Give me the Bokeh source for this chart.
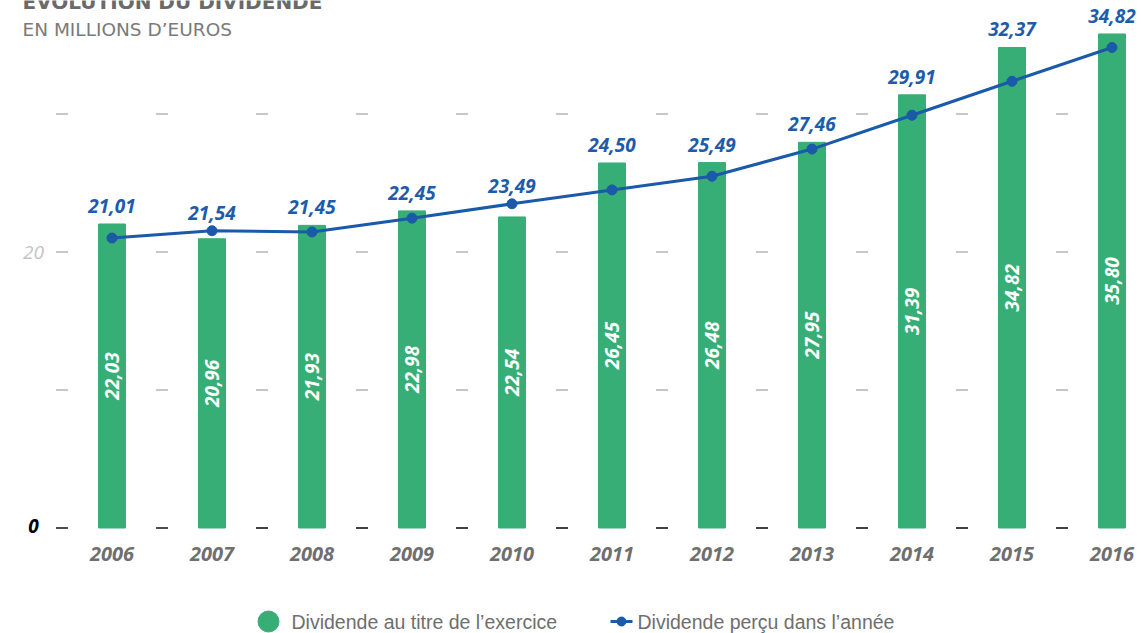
import math
from bokeh.plotting import figure
from bokeh.models import ColumnDataSource, Range1d
from bokeh.core.properties import value
from bokeh.embed import file_html
from bokeh.resources import INLINE

# ---------------- data ----------------
years = [2006, 2007, 2008, 2009, 2010, 2011, 2012, 2013, 2014, 2015, 2016]
year_labels = [str(y) for y in years]
dividende_exercice = [22.03, 20.96, 21.93, 22.98, 22.54, 26.45, 26.48, 27.95, 31.39, 34.82, 35.80]
dividende_percu = [21.01, 21.54, 21.45, 22.45, 23.49, 24.50, 25.49, 27.46, 29.91, 32.37, 34.82]
y_tick_values = [0, 20]
y_tick_labels = ["0", "20"]
grid_levels = [0, 10, 20, 30]

title_text = "ÉVOLUTION DU DIVIDENDE"
subtitle_text = "EN MILLIONS D\u2019EUROS"
legend_bars = "Dividende au titre de l\u2019exercice"
legend_line = "Dividende perçu dans l\u2019année"

# ---------------- styles ----------------
GREEN = "#37ae75"
BLUE = "#1a5aa8"
LABEL_BLUE = "#1c5cab"
GREY_TXT = "#6f6f6f"
NUM_FONT = value("Open Sans")

W, H = 1141, 633
PX_PER_YEAR = 100.0
X_FIRST_PX = 111.5
PX_PER_UNIT = 13.8
Y_ZERO_PX = 527.5

x_start = years[0] - X_FIRST_PX / PX_PER_YEAR
x_end = x_start + W / PX_PER_YEAR
y_end = Y_ZERO_PX / PX_PER_UNIT
y_start = y_end - H / PX_PER_UNIT


def xd(px):
    return x_start + px / PX_PER_YEAR


def yd(py):
    return y_end - py / PX_PER_UNIT


def fmt(v):
    return f"{v:.2f}".replace(".", ",")


p = figure(width=W, height=H,
           x_range=Range1d(x_start, x_end), y_range=Range1d(y_start, y_end),
           output_backend="svg", toolbar_location=None,
           x_axis_location=None, y_axis_location=None,
           min_border=0, min_border_left=0, min_border_right=0,
           min_border_top=0, min_border_bottom=0)
p.grid.visible = False
p.outline_line_color = None
p.background_fill_color = "white"
p.border_fill_color = "white"

# dashed "grid" marks between categories
bounds = [y - 0.5 for y in years]
for lvl in grid_levels:
    col = "#111111" if lvl == 0 else "#b5b5b5"
    p.segment(x0=[b - 0.06 for b in bounds], x1=[b + 0.06 for b in bounds],
              y0=[lvl] * len(bounds), y1=[lvl] * len(bounds),
              line_color=col, line_width=1.6)

# bars
src = ColumnDataSource(dict(
    x=years, bar=dividende_exercice, line=dividende_percu,
    half=[v / 2 for v in dividende_exercice],
    top_lab=[max(a, b) for a, b in zip(dividende_exercice, dividende_percu)],
    bar_txt=[fmt(v) for v in dividende_exercice],
    line_txt=[fmt(v) for v in dividende_percu],
    year_txt=year_labels,
))
p.vbar(x="x", top="bar", bottom=0, width=0.27, color=GREEN, source=src)

# line
p.line(x="x", y="line", line_width=3, color=BLUE, source=src)
p.scatter(x="x", y="line", size=10, color=BLUE, source=src)

# labels in bars
p.text(x="x", y="half", text="bar_txt", angle=math.pi / 2,
       text_align="center", text_baseline="middle",
       text_font=NUM_FONT, text_font_style="bold italic", text_font_size="19px",
       text_color="white", source=src)

# labels above
p.text(x="x", y="top_lab", text="line_txt", y_offset=-18,
       text_align="center", text_baseline="middle",
       text_font=NUM_FONT, text_font_style="bold italic", text_font_size="19px",
       text_color=LABEL_BLUE, source=src)

# year labels
p.text(x="x", y=yd(553), text="year_txt",
       text_align="center", text_baseline="middle",
       text_font=NUM_FONT, text_font_style="bold italic", text_font_size="20px",
       text_color=GREY_TXT, source=src)

# y labels
p.text(x=[xd(33)], y=[y_tick_values[0]], text=[y_tick_labels[0]],
       text_align="center", text_baseline="middle", y_offset=-2,
       text_font=NUM_FONT, text_font_style="bold italic", text_font_size="19px",
       text_color="#000000")
p.text(x=[xd(33)], y=[y_tick_values[1]], text=[y_tick_labels[1]],
       text_align="center", text_baseline="middle",
       text_font=NUM_FONT, text_font_style="italic", text_font_size="19px",
       text_color="#c3c3c3")

# title / subtitle
p.text(x=[xd(22)], y=[yd(1)], text=[title_text],
       text_align="left", text_baseline="alphabetic",
       text_font=value("DejaVu Sans"), text_font_style="bold", text_font_size="20px",
       text_color="#6a6a6a")
p.text(x=[xd(22)], y=[yd(29)], text=[subtitle_text],
       text_align="left", text_baseline="alphabetic",
       text_font=value("DejaVu Sans"), text_font_style="normal", text_font_size="18.5px",
       text_color="#7a7a7a")

# legend (drawn with glyphs to match the reference's swatches)
LEG_Y = yd(621)
p.scatter(x=[xd(268)], y=[LEG_Y], size=21, color=GREEN, marker="circle")
p.text(x=[xd(291)], y=[LEG_Y], text=[legend_bars],
       text_align="left", text_baseline="middle",
       text_font=value("Liberation Sans"), text_font_size="19.5px", text_color="#6e6e6e")
p.segment(x0=[xd(610)], x1=[xd(632)], y0=[LEG_Y], y1=[LEG_Y], line_color=BLUE, line_width=3)
p.scatter(x=[xd(621)], y=[LEG_Y], size=9, color=BLUE, marker="circle")
p.text(x=[xd(637)], y=[LEG_Y], text=[legend_line],
       text_align="left", text_baseline="middle",
       text_font=value("Liberation Sans"), text_font_size="19.5px", text_color="#6e6e6e")

open("out.html", "w").write(file_html(p, INLINE))
